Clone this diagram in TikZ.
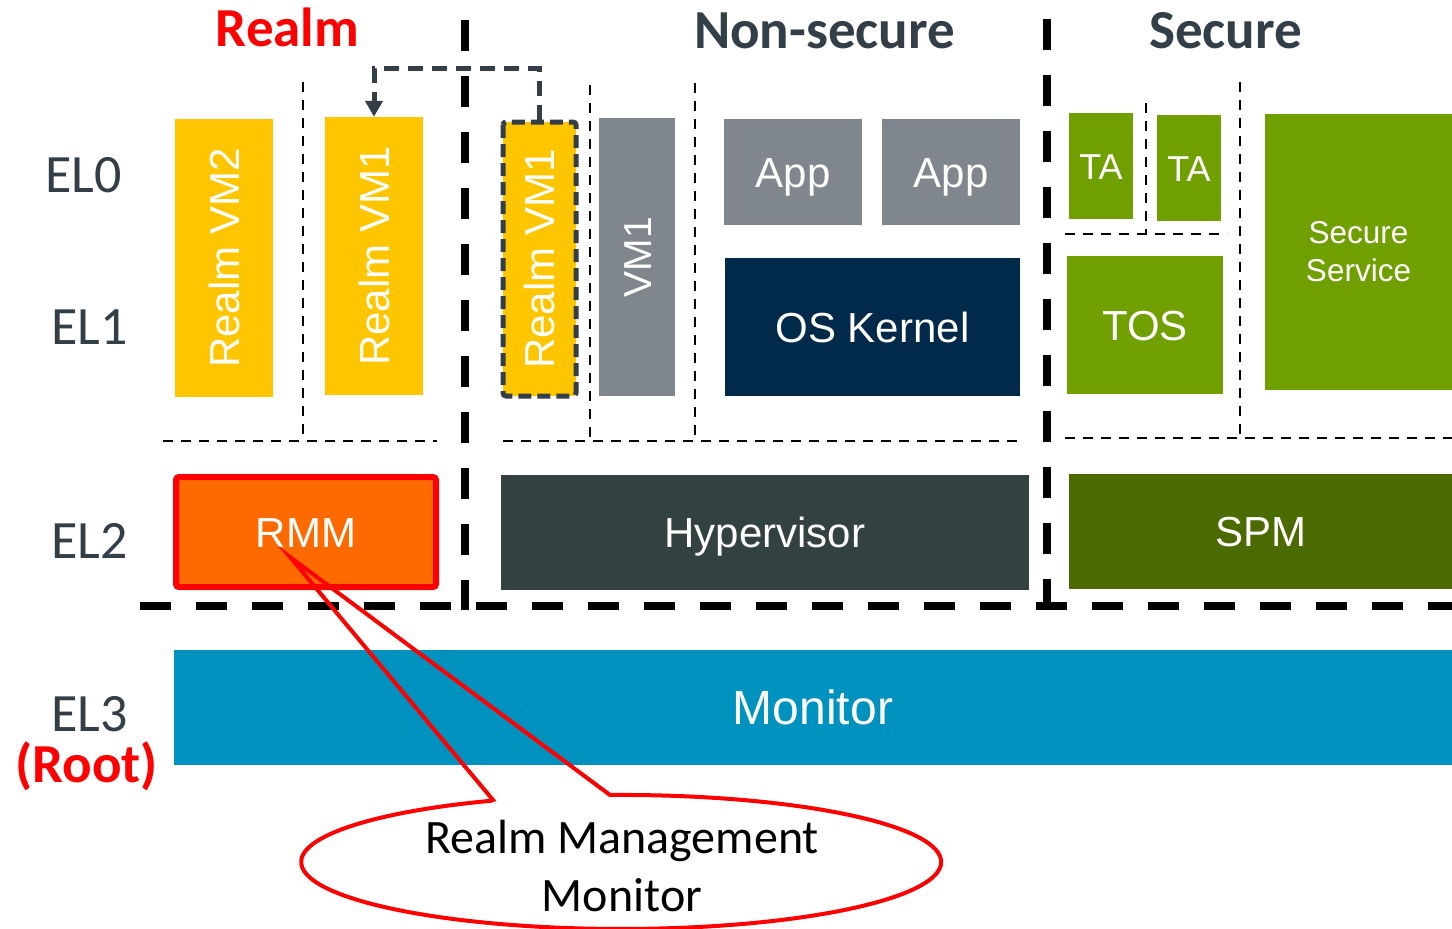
\documentclass[tikz,border=0pt]{standalone}
\usepackage{fontspec}
\setmainfont{Liberation Sans}
\newfontfamily\calfont{Carlito}
\usetikzlibrary{arrows.meta}
\definecolor{gold}{HTML}{FFC600}
\definecolor{vmgray}{HTML}{7F868D}
\definecolor{navy}{HTML}{012A4A}
\definecolor{tgreen}{HTML}{70A000}
\definecolor{spmgreen}{HTML}{4B6A00}
\definecolor{hypc}{HTML}{334141}
\definecolor{rmmfill}{HTML}{FF6A00}
\definecolor{monc}{HTML}{0092BF}
\definecolor{slate}{HTML}{333F48}
\definecolor{arrowc}{HTML}{343E48}
\begin{document}
\begin{tikzpicture}[x=1pt,y=1pt,
  box/.style={rectangle, inner sep=0pt, text=white, text height=30pt, text depth=0pt,
              font=\fontsize{42}{48}\selectfont},
  vbox/.style={rectangle, inner sep=0pt, text=white, rotate=90, text height=30pt, text depth=0pt,
              font=\fontsize{42}{48}\selectfont},
  thickdash/.style={line width=8pt, dash pattern=on 31pt off 25pt},
  thindash/.style={line width=2.5pt, dash pattern=on 10pt off 8pt},
  ellabel/.style={anchor=base, text=slate, font=\calfont\fontsize{54}{60}\selectfont},
  heading/.style={anchor=base, font=\calfont\bfseries\fontsize{55}{60}\selectfont},
  arrowline/.style={draw=arrowc, line width=5pt, dash pattern=on 15pt off 9pt,
              -{Triangle[length=16pt,width=17pt]}}
]
\useasboundingbox[fill=white] (0,0) rectangle (1452,-929);

% thick world separators
\draw[thickdash] (465,-20) -- (465,-610);
\draw[thickdash] (1047,-19) -- (1047,-606);
\draw[thickdash] (140,-606) -- (1452,-606);

% thin dashed separators
\draw[thindash] (303,-82) -- (303,-441);
\draw[thindash] (590,-85) -- (590,-441);
\draw[thindash] (695,-83) -- (695,-441);
\draw[thindash] (1240,-82) -- (1240,-438);
\draw[thindash] (1146,-103) -- (1146,-234);
\draw[thindash] (163,-441) -- (437,-441);
\draw[thindash] (503,-441) -- (1020,-441);
\draw[thindash] (1065,-438) -- (1452,-438);
\draw[thindash] (1065,-234) -- (1227,-234);

% headings
\node[heading, text=red] (hrealm) at (287.5,-46) {Realm};
\node[heading, text=slate] (hns) at (824.5,-48) {Non-secure};
\node[heading, text=slate] (hsec) at (1225.5,-48) {Secure};

% EL labels
\node[ellabel] (el0) at (83.5,-192) {EL0};
\node[ellabel] (el1) at (89.5,-344) {EL1};
\node[ellabel] (el2) at (89.5,-558) {EL2};
\node[ellabel] (el3) at (89.5,-731) {EL3};
\node[heading, text=red] (root) at (86.5,-782) {(Root)};

% Realm world
\node[vbox, fill=gold, minimum width=278, minimum height=98] (vm2) at (224,-258) {Realm VM2};
\node[vbox, fill=gold, minimum width=278, minimum height=98] (vm1r) at (374,-256) {Realm VM1};
\node[box, fill=rmmfill, draw=red, line width=6pt, rounded corners=3pt,
      minimum width=260, minimum height=110] (rmm) at (306,-532) {RMM};

% Non-secure world
\node[vbox, fill=gold, draw=arrowc, line width=5pt, dash pattern=on 13pt off 6pt,
      rounded corners=3pt, minimum width=274, minimum height=73] (vm1d) at (539.5,-259) {Realm VM1};
\node[vbox, fill=vmgray, minimum width=278, minimum height=76, text height=28pt,
      font=\fontsize{39}{44}\selectfont] (vm1) at (637,-257) {VM1};
\node[box, fill=vmgray, minimum width=138, minimum height=106] (app1) at (793,-172) {App};
\node[box, fill=vmgray, minimum width=138, minimum height=106] (app2) at (951,-172) {App};
\node[box, fill=navy, minimum width=295, minimum height=138] (os) at (872.5,-327) {OS Kernel};
\node[box, fill=hypc, minimum width=528, minimum height=115] (hyp) at (765,-532.5) {Hypervisor};

% Secure world
\node[box, fill=tgreen, minimum width=64, minimum height=106, text height=26pt,
      font=\fontsize{36}{42}\selectfont] (ta1) at (1101,-166) {TA};
\node[box, fill=tgreen, minimum width=64, minimum height=106, text height=26pt,
      font=\fontsize{36}{42}\selectfont] (ta2) at (1189,-168) {TA};
\node[box, fill=tgreen, minimum width=156, minimum height=138] (tos) at (1145,-325) {TOS};
\node[rectangle, inner sep=0pt, text=white, align=center, fill=tgreen,
      minimum width=187, minimum height=276, font=\fontsize{31.5}{38}\selectfont] (ss) at (1358.5,-252) {Secure\\Service};
\node[box, fill=spmgreen, minimum width=383, minimum height=115] (spm) at (1260.5,-531.5) {SPM};

% Root
\node[box, fill=monc, minimum width=1278, minimum height=115, text height=34.4pt,
      font=\fontsize{48}{54}\selectfont] (mon) at (813,-707.5) {Monitor};

% dashed arrow between Realm VM1 instances
\draw[arrowline] (vm1d.east) -- ++(0,51) -| (vm1r.east);

% callout
\coordinate (tip) at (290,-557);
\draw[red, line width=4pt, line join=miter] (493,-800) -- (tip) -- (610,-795)
   arc[start angle=92, end angle=-246, x radius=320, y radius=67] -- cycle;
\node[align=center, font=\calfont\fontsize{48}{58}\selectfont] (rmmtxt) at (622,-866) {Realm Management\\Monitor};
\end{tikzpicture}
\end{document}
